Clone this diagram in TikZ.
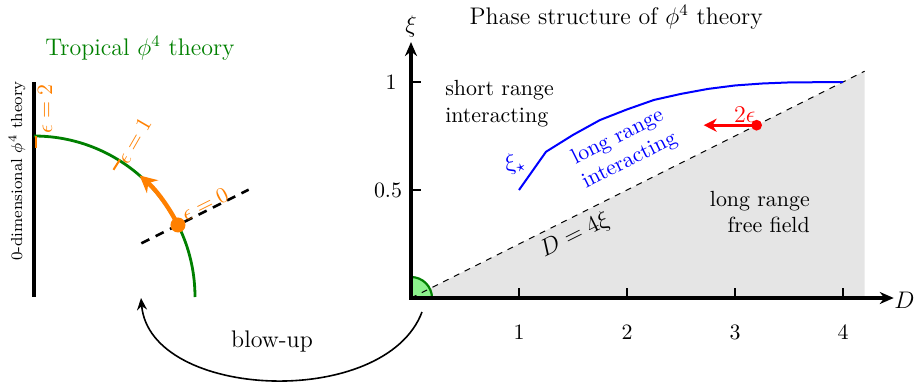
\documentclass[tikz,border=0pt]{standalone}
\usetikzlibrary{arrows.meta}
\definecolor{tgreen}{rgb}{0,0.5,0}
\definecolor{torange}{rgb}{1,0.5,0}
\definecolor{lgreen}{rgb}{0.55,0.95,0.55}
\begin{document}
\begin{tikzpicture}[x=0.5pt,y=0.5pt,
  ax/.style={line width=1.7pt},
  tk/.style={line width=0.6pt},
  lbl/.style={font=\fontsize{10.95}{13.2}\selectfont, inner sep=0pt},
  eps/.style={torange, font=\fontsize{10.95}{13}\selectfont, inner sep=0pt},
  ttl/.style={font=\large, inner sep=0pt}]
\useasboundingbox (0,0) rectangle (917,-381);
% ---------------- left: tropical
\coordinate (C) at (34,-297);
\coordinate (vtop) at (34,-82);
\draw[ax] (vtop) -- (C);
\draw[tgreen, line width=1.4pt] (195,-297) arc[start angle=0, end angle=90, radius=161];
\coordinate (d1) at ([shift={(26.57:120)}]C);
\coordinate (d2) at ([shift={(26.57:240)}]C);
\draw[line width=1.3pt, dash pattern=on 4.5pt off 3.5pt] (d1) -- (d2);
\coordinate (p0) at ([shift={(26.57:161)}]C);
\draw[torange, line width=2.2pt, -{Stealth[length=8.5pt,width=8.5pt]}] (p0) arc[start angle=26.57, end angle=49, radius=161];
\fill[torange] (p0) circle[radius=7.5];
\draw[torange, line width=1pt] ([shift={(58:150)}]C) -- ([shift={(58:162)}]C);
\draw[torange, line width=1pt] (36,-136) -- (36,-148);
\node[eps, rotate=90] (e2) at (45,-109) {$\epsilon=2$};
\node[eps, rotate=60] (e1) at (134,-141) {$\epsilon=1$};
\node[eps, rotate=26.57] (e0) at (205,-204) {$\epsilon=0$};
\node[font=\footnotesize, rotate=90, inner sep=0pt] (zd) at (17,-171) {0-dimensional $\phi^4$ theory};
\node[ttl, tgreen] (trop) at (140,-48) {Tropical $\phi^4$ theory};
% ---------------- right: phase diagram
\begin{scope}[shift={(411,-298)}, x=54pt, y=108pt]
\coordinate (O) at (0,0);
\coordinate (lend) at (4.2,1.05);
\fill[gray!20] (O) -- (lend) -- (4.2,0) -- cycle;
\filldraw[draw=tgreen, fill=lgreen, line width=1.1pt] (O) -- (10.5pt,0) arc[start angle=0, end angle=90, radius=10.5pt] -- cycle;
\draw[dashed, line width=0.5pt] (O) -- (lend);
\coordinate (xend) at (4.47,0);
\coordinate (yend) at (0,1.185);
\draw[ax, {Stealth[length=7pt,width=6pt]}-{Stealth[length=7pt,width=6pt]}] (yend) -- (O) -- (xend);
\foreach \i in {1,2,3,4} {
  \draw[tk] (\i,0) -- ++(0,5pt);
  \node[lbl] (xt\i) at ([yshift=-17pt]\i,0) {\i};
}
\draw[tk] (0,0.5) -- ++(5pt,0);
\draw[tk] (0,1) -- ++(5pt,0);
\node[lbl] (yt05) at ([xshift=-11.5pt]0,0.5) {0.5};
\node[lbl] (yt1) at ([xshift=-10pt]0,1) {1};
\node[font=\large, inner sep=0pt] (xil) at (0,1.255) {$\xi$};
\node[font=\large, inner sep=0pt] (Dl) at (4.57,-0.01) {$D$};
\node[ttl] (title) at (1.9,1.3) {Phase structure of $\phi^4$ theory};
\draw[blue, line width=1pt] plot coordinates {(1,0.5) (1.25,0.677) (1.5,0.755) (1.75,0.824) (2,0.873) (2.25,0.917) (2.5,0.945) (2.75,0.968) (3,0.984) (3.25,0.993) (3.5,0.998) (4,1)};
\node[blue, font=\large, rotate=15, inner sep=0pt] (xis) at (0.96,0.625) {$\xi_\star$};
\node[lbl, align=left] (sr) at (0.82,0.9) {short range\\interacting};
\node[lbl, blue, align=center, rotate=26.57] (lri) at (1.97,0.69) {long range\\interacting};
\node[lbl, align=right] (lrf) at (3.23,0.398) {long range\\free field};
\node[font=\large, inner sep=0pt, rotate=26.57] (D4) at (1.52,0.29) {$D=4\xi$};
\coordinate (rd) at (3.2,0.8);
\coordinate (ra) at (2.71,0.8);
\draw[red, line width=1.3pt, -{Stealth[length=6.5pt,width=6.5pt]}] (rd) -- (ra);
\fill[red] (rd) circle[radius=2.7pt];
\node[red, font=\large, inner sep=0pt] (te) at (3.09,0.85) {$2\epsilon$};
\end{scope}
% ---------------- blow-up arrow
\coordinate (bs) at (422,-312);
\coordinate (be) at (141,-298);
\draw[line width=0.8pt, -{Stealth[length=6pt,width=5pt]}] (bs) .. controls (385,-410) and (150,-400) .. (be);
\node[font=\large, inner sep=0pt] (bl) at (272,-341) {blow-up};
\end{tikzpicture}
\end{document}
